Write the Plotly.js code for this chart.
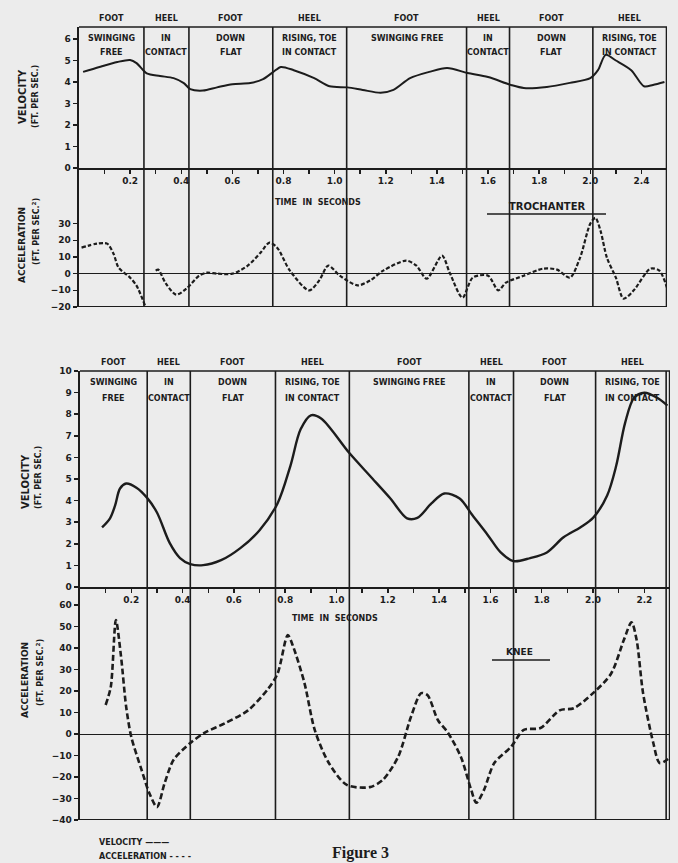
<!DOCTYPE html>
<html>
<head>
<meta charset="utf-8">
<script src="https://cdn.plot.ly/plotly-3.0.1.min.js"></script>
<style>html,body{margin:0;padding:0;background:#ececec;}</style>
</head>
<body>
<div id="chart" style="width:678px;height:863px;"></div>
<script>
// ---------- DATA ----------
// Trochanter (top panel)
const trochVelT = [0.016,0.08,0.15,0.2,0.225,0.265,0.317,0.37,0.41,0.435,0.485,0.54,0.6,0.67,0.72,0.76,0.79,0.84,0.92,0.98,1.05,1.11,1.18,1.23,1.295,1.37,1.44,1.52,1.6,1.69,1.74,1.83,1.92,2.0,2.03,2.06,2.1,2.16,2.21,2.245,2.29];
const trochVel  = [4.47,4.7,4.93,5.02,4.88,4.4,4.28,4.18,3.95,3.67,3.6,3.75,3.9,3.95,4.13,4.47,4.7,4.55,4.18,3.8,3.75,3.63,3.5,3.63,4.18,4.47,4.65,4.42,4.23,3.86,3.72,3.77,3.96,4.18,4.55,5.26,5.0,4.55,3.8,3.86,4.0];
const trochAccT = [0.01,0.07,0.11,0.135,0.155,0.2,0.225,0.258,0.28,0.3,0.31,0.34,0.38,0.42,0.47,0.5,0.54,0.6,0.66,0.71,0.745,0.775,0.825,0.9,0.94,0.975,1.02,1.09,1.14,1.19,1.28,1.32,1.36,1.42,1.45,1.5,1.54,1.6,1.64,1.67,1.74,1.815,1.87,1.92,1.96,2.0,2.02,2.04,2.065,2.1,2.13,2.17,2.235,2.27,2.3];
const trochAcc  = [15.6,18,18,12,3.6,-2.4,-7.2,-19,null,1.8,2.4,-6,-12.6,-9,-1.2,0.6,0,0,4.8,12.6,18.6,15.6,1.8,-10,-4,4.8,-1.2,-7,-4,1.8,7.8,4.8,-3,10.8,0.6,-14.4,-2.4,-1.2,-10,-5.4,-1.2,3,2.4,-2.4,9.6,30,33.5,25.7,9.6,-2.4,-15,-10,3,1.8,-8.4];

// Knee (bottom panel)
const kneeVelT = [0.086,0.117,0.137,0.156,0.18,0.22,0.26,0.3,0.35,0.39,0.43,0.48,0.55,0.625,0.7,0.77,0.82,0.86,0.9,0.94,1.05,1.13,1.21,1.275,1.315,1.37,1.42,1.48,1.53,1.59,1.64,1.69,1.755,1.82,1.885,1.95,2.0,2.055,2.09,2.125,2.16,2.2,2.25,2.29];
const kneeVel  = [2.76,3.18,3.78,4.56,4.79,4.6,4.15,3.45,2.03,1.34,1.06,1.01,1.24,1.8,2.63,3.87,5.6,7.3,7.95,7.8,6.2,5.15,4.1,3.18,3.2,3.87,4.33,4.1,3.32,2.4,1.6,1.2,1.34,1.6,2.3,2.76,3.2,4.24,5.6,7.6,8.76,8.99,8.76,8.4];
const kneeAccT = [0.1,0.12,0.14,0.16,0.18,0.2,0.24,0.27,0.3,0.33,0.365,0.43,0.485,0.565,0.655,0.73,0.77,0.81,0.83,0.875,0.915,0.97,1.04,1.13,1.18,1.24,1.29,1.33,1.355,1.395,1.435,1.485,1.525,1.545,1.575,1.615,1.68,1.73,1.795,1.87,1.925,2.0,2.07,2.12,2.15,2.17,2.195,2.235,2.26,2.3];
const kneeAcc  = [13.5,21.9,53,36,12.6,-1.4,-16.7,-27.4,-34,-22.8,-12,-4.2,0.5,5,11,20.5,28,46,41,23.7,1.9,-13.5,-23.7,-24.7,-21.4,-10.7,7.9,19,18,6.5,0.5,-10.7,-26,-32,-26,-13.5,-6,1.9,2.8,11,12,19,28,43.7,52,43.7,19,-4.2,-13.5,-11];

// Phase boundaries (seconds)
const trochPhaseBounds = [0.254,0.43,0.758,1.047,1.516,1.684,2.01];
const kneePhaseBounds  = [0.262,0.43,0.762,1.05,1.516,1.69,2.01,2.285];

// Phase labels
const phaseRow1 = ["FOOT","HEEL","FOOT","HEEL","FOOT","HEEL","FOOT","HEEL"];
const phaseRow2 = ["SWINGING","IN","DOWN","RISING, TOE","SWINGING FREE","IN","DOWN","RISING, TOE"];
const phaseRow3 = ["FREE","CONTACT","FLAT","IN CONTACT","","CONTACT","FLAT","IN CONTACT"];

// Tick labels
const timeMajorVals = [0.2,0.4,0.6,0.8,1.0,1.2,1.4,1.6,1.8,2.0,2.2];
const timeMinorVals = [0.1,0.3,0.5,0.7,0.9,1.1,1.3,1.5,1.7,1.9,2.1];
const trochTimeTickText = ["0.2","0.4","0.6","0.8","1.0","1.2","1.4","1.6","1.8","2.0","2.4"];
const kneeTimeTickText  = ["0.2","0.4","0.6","0.8","1.0","1.2","1.4","1.6","1.8","2.0","2.2"];
const trochVelTicks = [0,1,2,3,4,5,6];
const trochAccTicks = [-20,-10,0,10,20,30];
const kneeVelTicks  = [0,1,2,3,4,5,6,7,8,9,10];
const kneeAccTicks  = [-40,-30,-20,-10,0,10,20,30,40,50,60];

// ---------- LAYOUT HELPERS ----------
const W = 678, H = 863;
const X = px => px / W;
const Y = py => 1 - py / H;
const INK = '#1c1c1c';
const BG = '#ececec';
const FONT = 'DejaVu Sans, sans-serif';
const T_MAX = 2.3;

const traces = [
  {x: trochVelT, y: trochVel, xaxis: 'x', yaxis: 'y', mode: 'lines',
   line: {color: INK, width: 2, shape: 'spline', smoothing: 0.8}},
  {x: trochAccT, y: trochAcc, xaxis: 'x', yaxis: 'y2', mode: 'lines', connectgaps: false,
   line: {color: INK, width: 2.2, dash: '4px,2px', shape: 'spline', smoothing: 0.8}},
  {x: kneeVelT, y: kneeVel, xaxis: 'x2', yaxis: 'y3', mode: 'lines',
   line: {color: INK, width: 2.4, shape: 'spline', smoothing: 0.9}},
  {x: kneeAccT, y: kneeAcc, xaxis: 'x2', yaxis: 'y4', mode: 'lines',
   line: {color: INK, width: 2.6, dash: '6px,3px', shape: 'spline', smoothing: 0.8}}
];

const tickFont = {family: FONT, size: 9, color: INK, weight: 'bold'};
function xAxis(domain, anchor, ticktext) {
  return {domain: domain, range: [0, T_MAX], anchor: anchor, showgrid: false, zeroline: false,
    showline: true, linecolor: INK, linewidth: 1.6, ticks: 'outside', ticklen: 4, tickwidth: 1.5,
    tickcolor: INK, tickmode: 'array', tickvals: timeMajorVals, ticktext: ticktext,
    minor: {tickmode: 'array', tickvals: timeMinorVals, ticks: 'outside', ticklen: 4, tickwidth: 1.5, tickcolor: INK, showgrid: false},
    tickfont: tickFont, fixedrange: true};
}
function yAxis(domain, range, tickvals, anchor, zeroline) {
  return {domain: domain, range: range, anchor: anchor, showgrid: false,
    zeroline: zeroline, zerolinecolor: INK, zerolinewidth: 1,
    showline: true, linecolor: INK, linewidth: 2.4, ticks: 'outside', ticklen: 4, tickwidth: 1.5,
    tickcolor: INK, tickmode: 'array', tickvals: tickvals, tickfont: tickFont, fixedrange: true};
}

const layout = {
  width: W, height: H, margin: {l: 0, r: 0, t: 0, b: 0},
  paper_bgcolor: BG, plot_bgcolor: 'rgba(0,0,0,0)', showlegend: false,
  font: {family: FONT, color: INK},
  xaxis:  xAxis([X(79), X(667)], 'y', trochTimeTickText),
  yaxis:  yAxis([Y(168), Y(27)], [0, (168 - 27) / 21.5], trochVelTicks, 'x', false),
  yaxis2: yAxis([Y(307), Y(168)], [-20, -20 + (307 - 168) / 1.667], trochAccTicks, 'x', true),
  xaxis2: xAxis([X(80), X(670)], 'y3', kneeTimeTickText),
  yaxis3: yAxis([Y(587), Y(371)], [0, 10], kneeVelTicks, 'x2', false),
  yaxis4: yAxis([Y(820), Y(587)], [-40, -40 + (820 - 587) / 2.15], kneeAccTicks, 'x2', true),
  shapes: [],
  annotations: []
};

const line = (o) => Object.assign({type: 'line', line: {color: INK, width: 1.6}}, o);

// frames
layout.shapes.push(line({xref: 'x', yref: 'paper', x0: 0, x1: T_MAX, y0: Y(27), y1: Y(27)}));
layout.shapes.push(line({xref: 'x', yref: 'y2', x0: 0, x1: T_MAX, y0: -20, y1: -20, line: {color: INK, width: 2}}));
layout.shapes.push(line({xref: 'x', yref: 'paper', x0: T_MAX, x1: T_MAX, y0: Y(307), y1: Y(27), line: {color: INK, width: 2.6}}));
trochPhaseBounds.forEach(t => layout.shapes.push(line({xref: 'x', yref: 'paper', x0: t, x1: t, y0: Y(307), y1: Y(27)})));
layout.shapes.push(line({xref: 'x2', yref: 'paper', x0: 0, x1: T_MAX, y0: Y(371), y1: Y(371)}));
layout.shapes.push(line({xref: 'x2', yref: 'y4', x0: 0, x1: T_MAX, y0: -40, y1: -40, line: {color: INK, width: 2}}));
layout.shapes.push(line({xref: 'x2', yref: 'paper', x0: T_MAX, x1: T_MAX, y0: Y(820), y1: Y(371), line: {color: INK, width: 2.4}}));
kneePhaseBounds.forEach(t => layout.shapes.push(line({xref: 'x2', yref: 'paper', x0: t, x1: t, y0: Y(820), y1: Y(371)})));

// phase header labels
function addHeader(bounds, xref, yRows) {
  const b = [0].concat(bounds.slice(0, 7)).concat([T_MAX]);
  for (let i = 0; i < 8; i++) {
    const c = (b[i] + b[i + 1]) / 2;
    [phaseRow1, phaseRow2, phaseRow3].forEach((row, r) => {
      if (!row[i]) return;
      layout.annotations.push({xref: xref, yref: 'paper', x: c, y: Y(yRows[r]), text: row[i],
        showarrow: false, xanchor: 'center', yanchor: 'middle',
        font: {family: FONT, size: 8, color: INK, weight: 'bold'}});
    });
  }
}
addHeader(trochPhaseBounds, 'x', [18, 38, 52]);
addHeader(kneePhaseBounds, 'x2', [362, 383, 398]);

function txt(x, y, text, size, extra) {
  layout.annotations.push(Object.assign({xref: 'paper', yref: 'paper', x: X(x), y: Y(y), text: text,
    showarrow: false, xanchor: 'center', yanchor: 'middle',
    font: {family: FONT, size: size, color: INK, weight: 'bold'}}, extra || {}));
}
// axis titles
txt(23, 97, 'VELOCITY', 10, {textangle: -90});
txt(36, 97, '(FT. PER SEC.)', 8, {textangle: -90});
txt(22, 245, 'ACCELERATION', 9, {textangle: -90});
txt(36, 232, '(FT. PER SEC.<sup>2</sup>)', 8, {textangle: -90});
txt(25, 482, 'VELOCITY', 10, {textangle: -90});
txt(38, 478, '(FT. PER SEC.)', 8, {textangle: -90});
txt(25, 680, 'ACCELERATION', 9, {textangle: -90});
txt(40, 673, '(FT. PER SEC.<sup>2</sup>)', 8, {textangle: -90});

txt(318, 203, 'TIME  IN  SECONDS', 8);
txt(335, 618, 'TIME  IN  SECONDS', 8);

txt(547, 206, 'TROCHANTER', 10);
layout.shapes.push(line({xref: 'paper', yref: 'paper', x0: X(487), x1: X(606), y0: Y(214), y1: Y(214), line: {color: INK, width: 1.5}}));
txt(519, 652, 'KNEE', 9);
layout.shapes.push(line({xref: 'paper', yref: 'paper', x0: X(492), x1: X(550), y0: Y(660), y1: Y(660), line: {color: INK, width: 1.5}}));

// legend
txt(97, 842, 'VELOCITY ———', 8, {xanchor: 'left'});
txt(97, 856, 'ACCELERATION - - - -', 8, {xanchor: 'left'});
txt(330, 853, 'Figure 3', 16, {xanchor: 'left', font: {family: 'Liberation Serif, serif', size: 16, color: INK, weight: 'bold'}});

Plotly.newPlot('chart', traces, layout, {staticPlot: true, displayModeBar: false});
</script>
</body>
</html>
